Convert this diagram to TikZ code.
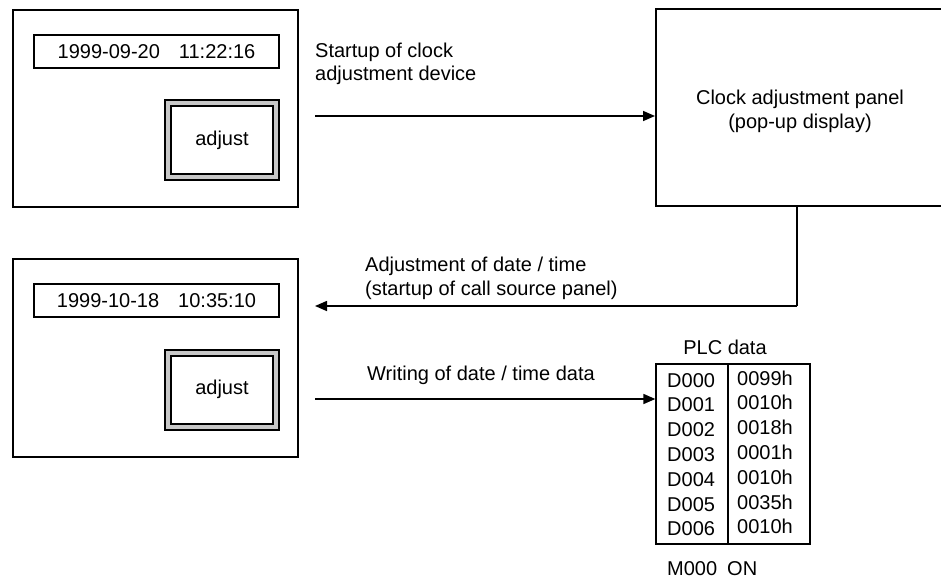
\documentclass[tikz,border=0pt]{standalone}
\usepackage{fontspec}
\setmainfont{Liberation Sans}
\usetikzlibrary{arrows.meta}
\begin{document}
\begin{tikzpicture}[x=1pt,y=-1pt,
  every node/.style={font=\fontsize{20}{24}\selectfont},
  screen/.style={draw,line width=2pt,inner sep=0pt},
  datebox/.style={draw,line width=1.3pt,inner sep=0pt,minimum width=245pt,minimum height=33pt},
  btnouter/.style={draw,line width=2pt,fill=black!22,inner sep=0pt,minimum width=114pt,minimum height=80pt},
  btninner/.style={draw,line width=2pt,fill=white,inner sep=0pt,minimum width=102pt,minimum height=68pt},
  txt/.style={inner sep=0pt,anchor=base west},
  ctxt/.style={inner sep=0pt,anchor=base},
  arr/.style={line width=1.6pt,-{Triangle[length=12pt,width=10pt]}},
  plain/.style={line width=1.6pt}]
\useasboundingbox (0,0) rectangle (941,578);
% top-left screen
\node[screen,minimum width=285pt,minimum height=197pt] (scr1) at (155.5,108.5) {};
\node[datebox] (date1) at (156.5,51.5) {1999-09-20\hspace{19pt}11:22:16};
\node[btnouter] (btn1o) at (222,140) {};
\node[btninner] (btn1) at (222,140) {adjust};
% bottom-left screen
\node[screen,minimum width=285pt,minimum height=198pt] (scr2) at (155.5,358) {};
\node[datebox] (date2) at (156.5,300.5) {1999-10-18\hspace{19pt}10:35:10};
\node[btnouter] (btn2o) at (222,389.5) {};
\node[btninner] (btn2) at (222,389.5) {adjust};
% panel
\node[screen,minimum width=288pt,minimum height=197pt] (panel) at (800,107.5) {};
\node[ctxt] (ptxt1) at (800,104) {Clock adjustment panel};
\node[ctxt] (ptxt2) at (800,128) {(pop-up display)};
% PLC table
\node[draw,line width=1.3pt,inner sep=0pt,minimum width=154pt,minimum height=180pt] (plc) at (733,454) {};
\coordinate (divt) at (728,364);
\coordinate (divb) at (728,544);
\draw[line width=1.3pt] (divt) -- (divb);
\node[ctxt] (plct) at (725,354) {PLC data};
\foreach \i/\v in {0/0099h,1/0010h,2/0018h,3/0001h,4/0010h,5/0035h,6/0010h}{
  \node[txt] (d\i) at (667,{387+24.8*\i}) {D00\i};
  \node[txt] (v\i) at (737,{385+24.8*\i}) {\v};
}
\node[txt] (m000) at (667,575) {M000\hspace{10pt}ON};
% labels
\node[txt] (l1) at (315,57) {Startup of clock};
\node[txt] (l2) at (315,81) {adjustment device};
\node[txt] (l3) at (365,271) {Adjustment of date / time};
\node[txt] (l4) at (365,295) {(startup of call source panel)};
\node[txt] (l5) at (367,380) {Writing of date / time data};
% connectors
\coordinate (a1) at (315,116);
\draw[arr] (a1) -- (a1 -| panel.west);
\coordinate (r1) at (797,306);
\coordinate (r2) at (315,306);
\draw[plain] (panel.south -| r1) -- (r1);
\draw[arr] (r1) -- (r2);
\coordinate (a3) at (315,399);
\draw[arr] (a3) -- (a3 -| plc.west);
\end{tikzpicture}
\end{document}
